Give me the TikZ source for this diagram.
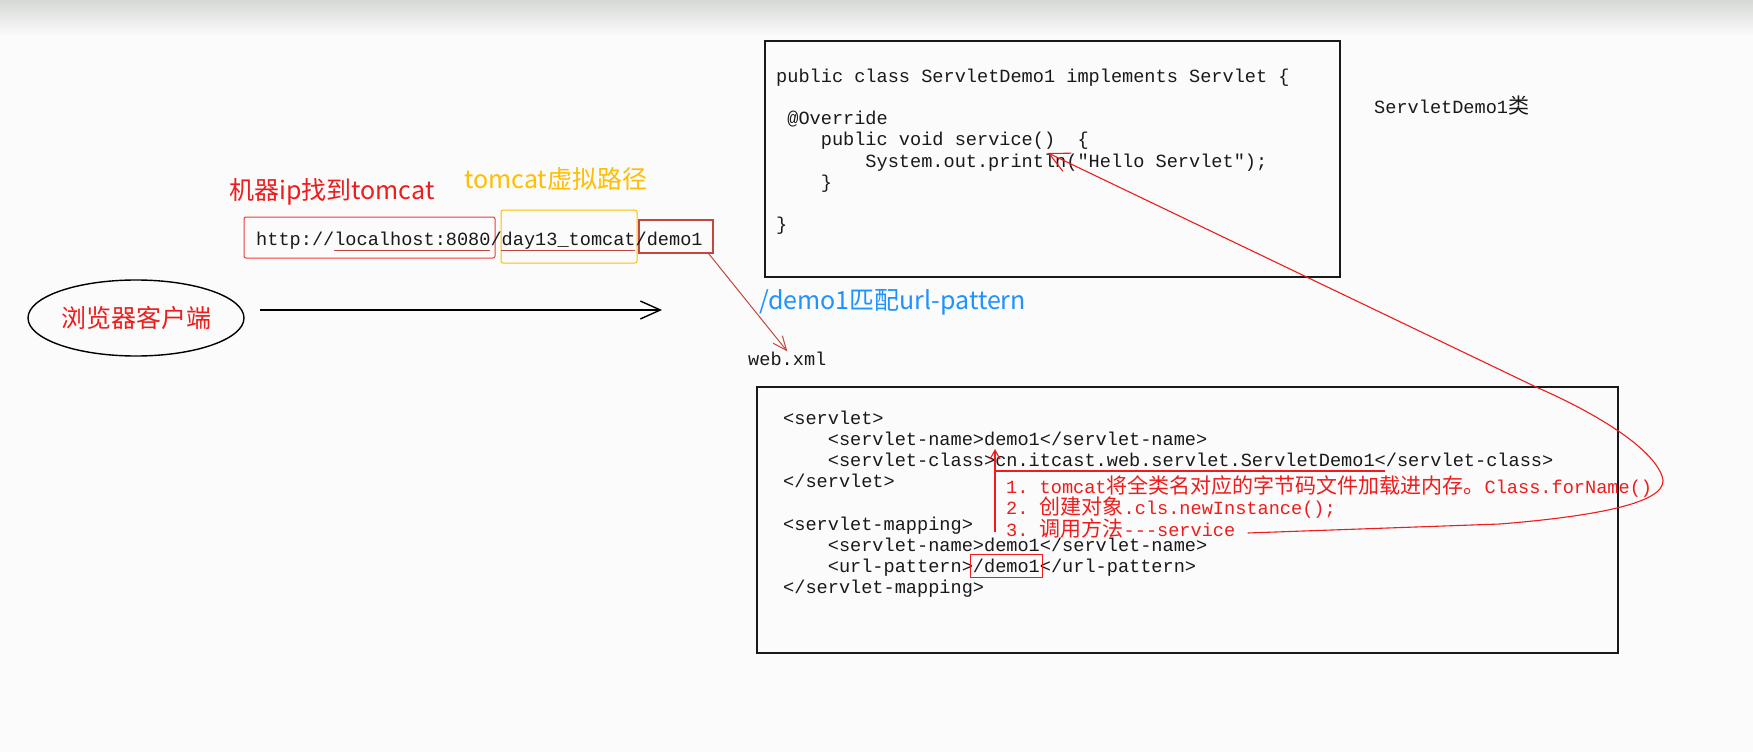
\documentclass[tikz,border=0pt]{standalone}
\usepackage{fontspec}
\setmonofont{Liberation Mono}
\newfontfamily\cjk{Noto Sans CJK SC}
\usepackage{tikz}
\usetikzlibrary{arrows.meta,positioning,calc,shapes.geometric}
\definecolor{pagebg}{RGB}{250,251,250}
\definecolor{topshade}{RGB}{214,216,213}
\definecolor{annot}{RGB}{238,28,28}
\definecolor{darkred}{RGB}{192,72,62}
\definecolor{hostred}{RGB}{240,60,60}
\definecolor{gold}{RGB}{255,190,0}
\definecolor{skyblue}{RGB}{30,146,255}
\newlength{\cw}
\setlength{\cw}{11.16pt}
\newcommand{\zh}[1]{{\cjk\fontsize{21}{21.2}\selectfont #1}}
\newcommand{\codepad}[1]{\hspace*{#1\cw}}
\newcommand{\monofont}{\ttfamily\fontsize{18.6}{21.2}\selectfont\lineskiplimit=-30pt\relax}
\frenchspacing

\begin{document}
\begin{tikzpicture}[x=1pt, y=-1pt,
  monotext/.style={font=\monofont, inner sep=0pt, align=left, text=black!90},
  stepnote/.style={monotext, text=annot},
  box/.style={draw=black!90, line width=1.8pt, inner sep=0pt},
  cjklabel/.style={font={\cjk\fontsize{25}{30}\selectfont}, inner sep=0pt},
  annotline/.style={draw=annot, line width=1.1pt}]
\useasboundingbox (0,0) rectangle (1753,752);
\fill[pagebg] (0,0) rectangle (1753,752);
\shade[top color=topshade, bottom color=pagebg] (0,0) rectangle (1753,36);

% browser and request
\node[ellipse, draw, line width=1.4pt, minimum width=216pt, minimum height=76pt, inner sep=0pt, cjklabel, text=annot] (browser) at (136,318) {浏览器客户端};
\coordinate (server) at (662,310);
\draw[line width=1.4pt, -{Straight Barb[length=20pt,width=18pt]}] ($(browser.east)+(15,-8)$) -- (server);

% url
\node[draw=hostred, line width=1pt, rounded corners=2pt, minimum width=251pt, minimum height=41pt, inner sep=0pt] (hostbox) at (369.5,237.5) {};
\node[draw=gold, line width=1pt, rounded corners=2pt, minimum width=136pt, minimum height=53pt, inner sep=0pt] (ctxbox) at (569,236.5) {};
\node[draw=darkred, line width=1.6pt, minimum width=74pt, minimum height=33pt, inner sep=0pt] (demobox) at (676,236.5) {};
\node[monotext, anchor=base west] (url) at (256,245) {http://localhost:8080/day13\_tomcat/demo1};
\draw[darkred, line width=1pt] ($(url.base west)+(78,5)$) -- ++(156,0);
\draw[darkred, line width=1pt] ($(url.base west)+(245,5)$) -- ++(134,0);
\node[cjklabel, text=annot, anchor=west] (iplabel) at (229,192) {机器ip找到tomcat};
\node[cjklabel, text=gold, anchor=west] (ctxlabel) at (464,179) {tomcat虚拟路径};

% web.xml
\node[monotext, anchor=base west] (webxml) at (748,365) {web.xml};
\draw[darkred, line width=1pt, -{Straight Barb[length=14pt,width=12pt]}] ($(demobox.south east)+(-5,0)$) -- (webxml.north);
\node[cjklabel, text=skyblue, anchor=west] (matchlabel) at (759,302) {/demo1匹配url-pattern};

% servlet class
\node[box, minimum width=575pt, minimum height=236pt] (classbox) at (1052.5,159) {};
\node[monotext, anchor=north west] (javacode) at (776,65) {\rule{0pt}{17pt}public class ServletDemo1 implements Servlet \{\\
\mbox{}\\
\codepad{1}@Override\\
\codepad{4}public void service()\codepad{2}\{\\
\codepad{8}System.out.println("Hello Servlet");\\
\codepad{4}\}\\
\mbox{}\\
\}};
\node[monotext, anchor=base west] (classname) at (1374,113) {ServletDemo1\zh{类}};

% xml config
\node[box, minimum width=861pt, minimum height=266pt] (xmlbox) at (1187.5,520) {};
\node[monotext, anchor=north west] (xmlcode) at (783,407) {\rule{0pt}{17pt}<servlet>\\
\codepad{4}<servlet-name>demo1</servlet-name>\\
\codepad{4}<servlet-class>cn.itcast.web.servlet.ServletDemo1</servlet-class>\\
</servlet>\\
\mbox{}\\
<servlet-mapping>\\
\codepad{4}<servlet-name>demo1</servlet-name>\\
\codepad{4}<url-pattern>/demo1</url-pattern>\\
</servlet-mapping>};
\node[draw=annot, line width=1pt, minimum width=72pt, minimum height=23pt, inner sep=0pt] (patternbox) at (1006,565.5) {};

% steps
\node[stepnote, anchor=base west] (step1) at (1006,493) {1. tomcat\zh{将全类名对应的字节码文件加载进内存。}Class.forName()};
\node[stepnote, anchor=base west] (step2) at (1006,514.5) {2. \zh{创建对象}.cls.newInstance();};
\node[stepnote, anchor=base west] (step3) at (1006,536) {3. \zh{调用方法}-{}-{}-service};
\coordinate (classstart) at (995,471);
\coordinate (nameref) at (995,449);
\draw[annotline] (classstart) -- ++(390,0);
\draw[annotline, -{Straight Barb[length=9pt,width=10pt]}] (995,532) -- (nameref);
\coordinate (entry) at (1048,153);
\draw[annotline, -{Straight Barb[length=20pt,width=20pt]}] ($(step3.base east)+(12,-3)$) -- (1500,524)
  .. controls (1610,515) and (1672,500) .. (1662,476)
  .. controls (1652,448) and (1598,414) .. (1536,387) -- (entry);
\end{tikzpicture}
\end{document}
